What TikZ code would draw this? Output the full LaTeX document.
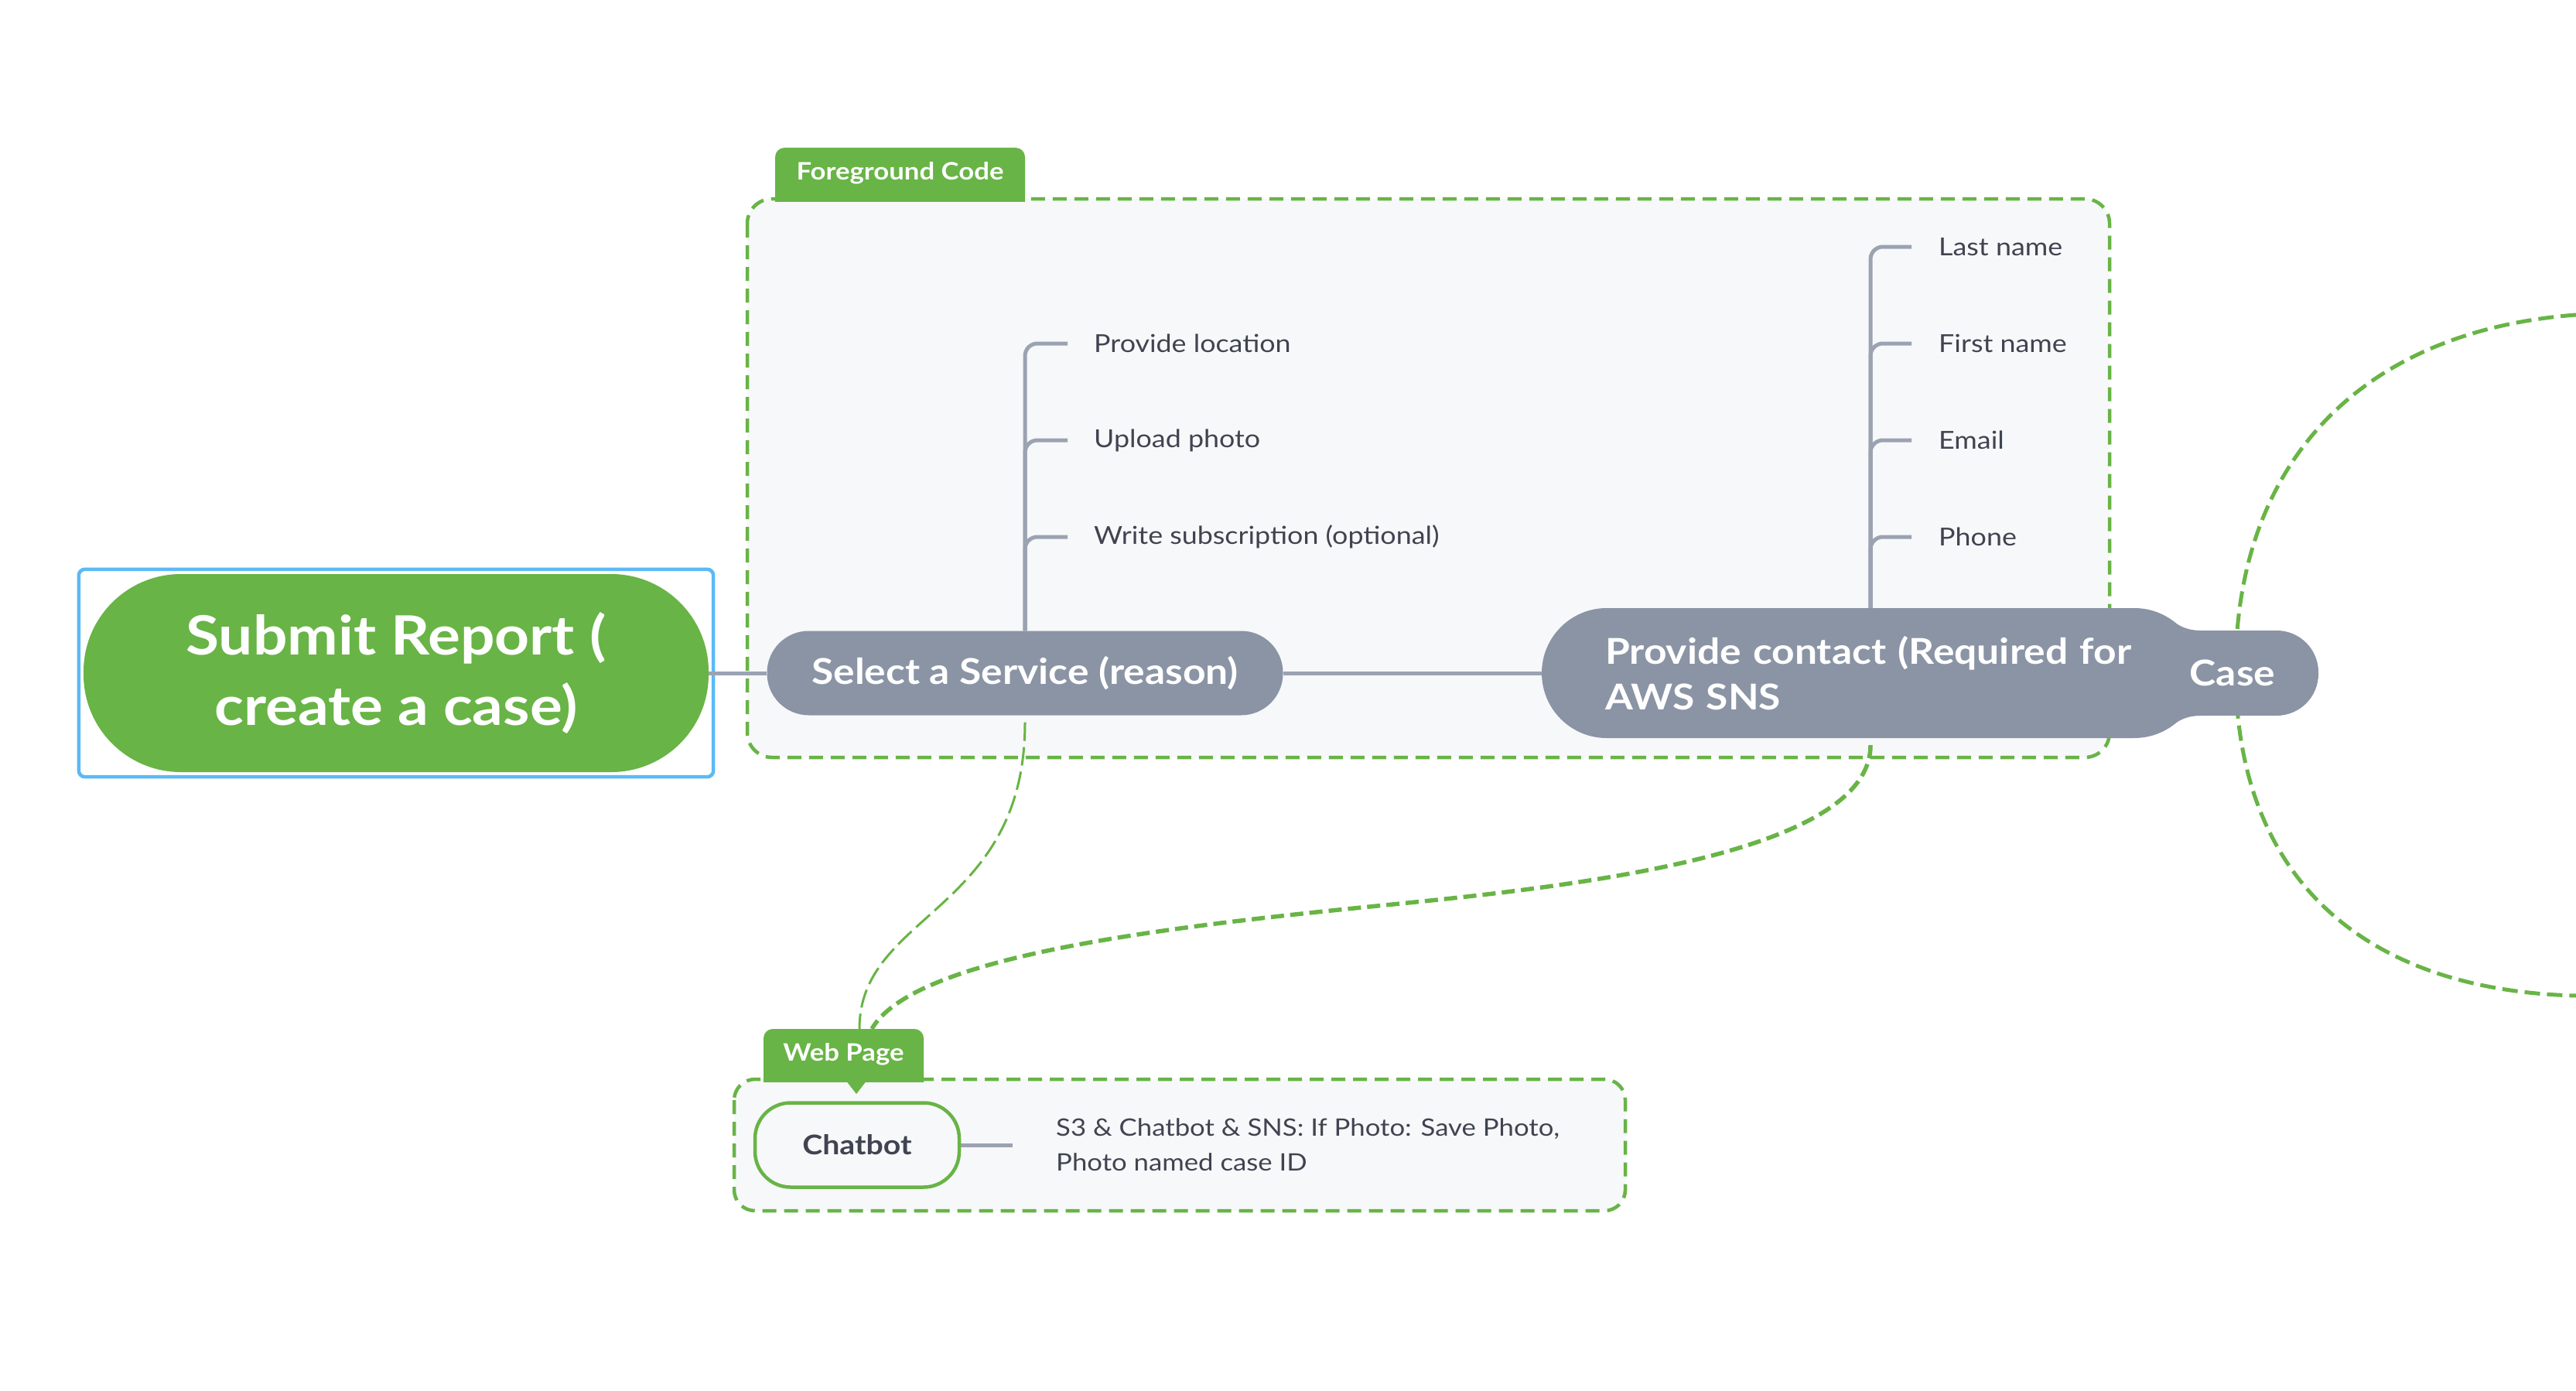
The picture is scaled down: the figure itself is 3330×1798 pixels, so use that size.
\documentclass[tikz,border=0pt]{standalone}
\usepackage{fontspec}
\setmainfont{Lato}[FakeStretch=1.12]
\definecolor{xgreen}{HTML}{68B446}
\definecolor{xgray}{HTML}{8B94A5}
\definecolor{xline}{HTML}{9BA3B2}
\definecolor{xbg}{HTML}{F7F8FA}
\definecolor{xblue}{HTML}{5CB9F5}
\definecolor{xtext}{HTML}{3F4450}
\begin{document}
\begin{tikzpicture}[x=1pt,y=-1pt,
  mainpill/.style={fill=xgreen, text=white, align=center, inner sep=0pt,
    font=\bfseries\fontsize{70}{91}\selectfont},
  graypill/.style={fill=xgray, text=white, inner sep=0pt,
    font=\bfseries\fontsize{46}{59}\selectfont},
  leaf/.style={anchor=west, text=xtext, inner sep=0pt, font=\fontsize{32}{40}\selectfont},
  conn/.style={draw=xline, line width=5pt, rounded corners=16pt},
  grpbox/.style={draw=xgreen, fill=xbg, line width=4.5pt, dash pattern=on 18pt off 10pt},
  tabtext/.style={text=white, inner sep=0pt, font=\bfseries\fontsize{31}{38}\selectfont},
  relthin/.style={draw=xgreen, line width=3pt, dash pattern=on 24pt off 8pt},
  relthick/.style={draw=xgreen, line width=5.5pt, dash pattern=on 17pt off 8pt},
  relbig/.style={draw=xgreen, line width=5pt, dash pattern=on 20pt off 9pt}
]
\useasboundingbox (0,0) rectangle (3330,1798);
\fill[white] (0,0) rectangle (3330,1798);

% group boxes
\draw[grpbox, rounded corners=32pt] (966,257) rectangle (2727,979);
\begin{scope}
  \clip (950,150) rectangle (1400,260);
  \fill[xgreen, rounded corners=12pt] (1002,191) rectangle (1325,320);
\end{scope}
\node[tabtext, minimum width=323pt, minimum height=66pt] (fc) at (1163.5,224) {Foreground Code};

\draw[grpbox, rounded corners=27pt] (949,1395) rectangle (2101,1565);
\begin{scope}
  \clip (900,1300) rectangle (1300,1398);
  \fill[xgreen, rounded corners=12pt] (987,1330) rectangle (1194,1450);
\end{scope}
\fill[xgreen] (1093,1396) -- (1121,1396) -- (1107,1414) -- cycle;
\node[tabtext, minimum width=207pt, minimum height=66pt] (wp) at (1090.5,1363) {Web Page};

% right relationship curve
\coordinate (rt) at (3330,407);
\coordinate (rb) at (3330,1287);
\draw[relbig] (rt) .. controls (3050,428) and (2890,600) .. (2890,866)
  .. controls (2890,1130) and (3050,1280) .. (rb);

% main topic
\node[mainpill, minimum width=808pt, minimum height=256pt, rounded corners=126pt] (main) at (512,870)
  {Submit Report (\\create a case)};
\draw[xblue, line width=4.5pt, rounded corners=8pt]
  ([xshift=-6pt,yshift=6pt]main.north west) rectangle ([xshift=6pt,yshift=-6pt]main.south east);

% subtopics
\node[graypill, minimum width=667pt, minimum height=109pt, rounded corners=54pt] (sel) at (1325,870)
  {Select a Service (reason)};
% Case pill shape (partly behind Provide contact)
\fill[xgray, rounded corners=54pt] (2775,815) rectangle (2997,925);
\node[graypill, minimum width=850pt, minimum height=168pt, rounded corners=84pt,
  text width=686pt, align=left] (pc) at (2418,870)
  {\mbox{Provide contact (Required for}\\AWS SNS};
% fillets joining Provide contact and Case
\fill[xgray] (2805,800) .. controls (2815,808) and (2826,815) .. (2845,815)
  -- (2780,815) -- (2780,800) -- cycle;
\fill[xgray] (2805,940) .. controls (2815,932) and (2826,925) .. (2845,925)
  -- (2780,925) -- (2780,940) -- cycle;
\node[text=white, inner sep=0pt, font=\bfseries\fontsize{46}{59}\selectfont] (case) at (2886,870) {Case};

\draw[conn] (main.east) -- (sel.west);
\draw[conn] (sel.east) -- (pc.west);

% leaves of Select a Service
\node[leaf] (l1) at (1414,444) {Provide location};
\node[leaf] (l2) at (1414,569) {Upload photo};
\node[leaf] (l3) at (1414,694) {Write subscription (optional)};
\foreach \n in {l1,l2,l3}
  \draw[conn] (sel.north) |- ([xshift=-34pt]\n.west);

% leaves of Provide contact
\node[leaf] (r1) at (2506,319) {Last name};
\node[leaf] (r2) at (2506,444) {First name};
\node[leaf] (r3) at (2506,569) {Email};
\node[leaf] (r4) at (2506,694) {Phone};
\foreach \n in {r1,r2,r3,r4}
  \draw[conn] (pc.north) |- ([xshift=-35pt]\n.west);

% web page content
\node[draw=xgreen, fill=xbg, line width=4.5pt, rounded corners=46pt, minimum width=264pt,
  minimum height=109pt, inner sep=0pt, text=xtext, font=\bfseries\fontsize{35}{42}\selectfont]
  (cb) at (1108,1480) {Chatbot};
\node[leaf, align=left, font=\fontsize{31}{45}\selectfont] (note) at (1365,1480)
  {S3 \& Chatbot \& SNS: If Photo: Save Photo,\\Photo named case ID};
\draw[conn] (cb.east) -- ([xshift=-56pt]note.west);

% relationship connectors
\draw[relthin] ([yshift=-9pt]sel.south) .. controls (1325,1180) and (1111,1180) .. ([xshift=20.5pt]wp.north);
\draw[relthick] ([yshift=-9pt]pc.south) .. controls (2418,1110) and (2000,1149) .. (1770,1172)
  .. controls (1470,1202) and (1180,1240) .. ([xshift=36.5pt]wp.north);
\end{tikzpicture}
\end{document}
